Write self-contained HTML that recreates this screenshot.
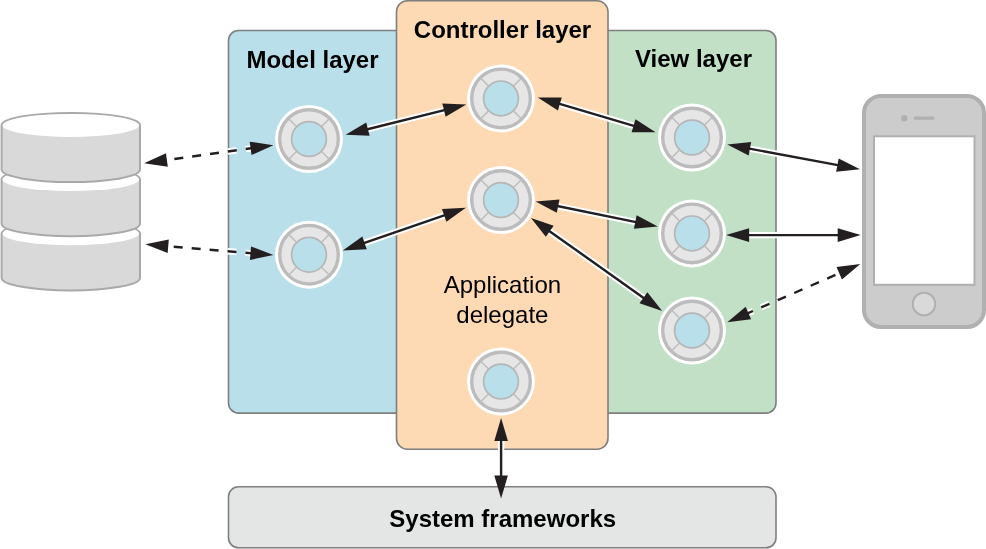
<!DOCTYPE html>
<html><head><meta charset="utf-8"><style>
html,body{margin:0;padding:0;background:#fff;width:986px;height:549px;overflow:hidden;}
svg{display:block;will-change:transform;}
text{font-family:"Liberation Sans", sans-serif;}
</style></head><body>
<svg width="986" height="549" viewBox="0 0 986 549">
<rect x="228.5" y="30.5" width="240" height="382.6" rx="10" fill="#b9dfea" stroke="#7f7f7f" stroke-width="1.6"/>
<rect x="536" y="30.5" width="240" height="382.6" rx="10" fill="#c1e0c6" stroke="#7f7f7f" stroke-width="1.6"/>
<rect x="396.5" y="0.8" width="211.5" height="448.4" rx="11" fill="#fdd9b4" stroke="#7f7f7f" stroke-width="1.6"/>
<rect x="228.5" y="486.8" width="547.5" height="61" rx="10" fill="#e4e6e5" stroke="#7f7f7f" stroke-width="1.6"/>
<path d="M1.5999999999999943,233.7 L1.5999999999999943,277.9 A69.2,12.5 0 0 0 140.0,277.9 L140.0,233.7 A69.2,12.5 0 0 0 1.5999999999999943,233.7 Z" fill="#d9d9d9" stroke="#a9a9a9" stroke-width="2"/>
<ellipse cx="70.8" cy="233.7" rx="68.2" ry="11.5" fill="#ffffff"/>
<path d="M1.5999999999999943,179.5 L1.5999999999999943,223.7 A69.2,12.5 0 0 0 140.0,223.7 L140.0,179.5 A69.2,12.5 0 0 0 1.5999999999999943,179.5 Z" fill="#d9d9d9" stroke="#a9a9a9" stroke-width="2"/>
<ellipse cx="70.8" cy="179.5" rx="68.2" ry="11.5" fill="#ffffff"/>
<path d="M1.5999999999999943,125.4 L1.5999999999999943,169.60000000000002 A69.2,12.5 0 0 0 140.0,169.60000000000002 L140.0,125.4 A69.2,12.5 0 0 0 1.5999999999999943,125.4 Z" fill="#d9d9d9" stroke="#a9a9a9" stroke-width="2"/>
<ellipse cx="70.8" cy="125.4" rx="68.2" ry="11.5" fill="#ffffff"/>
<rect x="864" y="96" width="120" height="231" rx="17" fill="#cccccc" stroke="#b0b0b0" stroke-width="4"/>
<rect x="874" y="136.3" width="100.5" height="148.5" fill="#ffffff" stroke="#b0b0b0" stroke-width="2"/>
<circle cx="904.3" cy="118.2" r="3.2" fill="#b0b0b0"/>
<line x1="915.5" y1="118.2" x2="933" y2="118.2" stroke="#b0b0b0" stroke-width="3.2" stroke-linecap="round"/>
<circle cx="924" cy="304" r="11.3" fill="#d9d9d9" stroke="#b0b0b0" stroke-width="2"/>
<path d="M252.90,148.05 L164.60,160.35" stroke="#ffffff" stroke-width="6.4" stroke-dasharray="9 9" stroke-dashoffset="37.70" fill="none"/>
<path d="M252.90,148.05 L164.60,160.35" stroke="#231f20" stroke-width="2.4" stroke-dasharray="9 9" stroke-dashoffset="37.70" fill="none"/>
<path d="M144.10,163.20 L167.82,166.76 L165.94,153.29 Z" fill="#231f20"/>
<path d="M273.40,145.20 L251.56,155.11 L249.68,141.64 Z" fill="#231f20"/>
<path d="M252.77,253.36 L165.93,246.04" stroke="#ffffff" stroke-width="6.4" stroke-dasharray="9 9" stroke-dashoffset="37.70" fill="none"/>
<path d="M252.77,253.36 L165.93,246.04" stroke="#231f20" stroke-width="2.4" stroke-dasharray="9 9" stroke-dashoffset="37.70" fill="none"/>
<path d="M145.30,244.30 L167.65,253.01 L168.79,239.46 Z" fill="#231f20"/>
<path d="M273.40,255.10 L249.91,259.94 L251.05,246.39 Z" fill="#231f20"/>
<path d="M363.45,130.25 L448.45,109.05" stroke="#ffffff" stroke-width="6.4" fill="none"/>
<path d="M363.45,130.25 L448.45,109.05" stroke="#231f20" stroke-width="2.4" fill="none"/>
<path d="M345.60,134.70 L369.56,135.73 L366.27,122.54 Z" fill="#231f20"/>
<path d="M466.30,104.60 L445.63,116.76 L442.34,103.57 Z" fill="#231f20"/>
<path d="M555.45,102.71 L637.95,127.09" stroke="#ffffff" stroke-width="6.4" fill="none"/>
<path d="M555.45,102.71 L637.95,127.09" stroke="#231f20" stroke-width="2.4" fill="none"/>
<path d="M537.80,97.50 L557.93,110.54 L561.78,97.49 Z" fill="#231f20"/>
<path d="M655.60,132.30 L631.62,132.31 L635.47,119.26 Z" fill="#231f20"/>
<path d="M360.19,244.38 L448.51,213.82" stroke="#ffffff" stroke-width="6.4" fill="none"/>
<path d="M360.19,244.38 L448.51,213.82" stroke="#231f20" stroke-width="2.4" fill="none"/>
<path d="M342.80,250.40 L366.76,249.30 L362.31,236.45 Z" fill="#231f20"/>
<path d="M465.90,207.80 L446.39,221.75 L441.94,208.90 Z" fill="#231f20"/>
<path d="M553.63,205.29 L639.77,222.91" stroke="#ffffff" stroke-width="6.4" fill="none"/>
<path d="M553.63,205.29 L639.77,222.91" stroke="#231f20" stroke-width="2.4" fill="none"/>
<path d="M535.60,201.60 L556.77,212.87 L559.50,199.55 Z" fill="#231f20"/>
<path d="M657.80,226.60 L633.90,228.65 L636.63,215.33 Z" fill="#231f20"/>
<path d="M546.01,228.65 L647.19,300.45" stroke="#ffffff" stroke-width="6.4" fill="none"/>
<path d="M546.01,228.65 L647.19,300.45" stroke="#231f20" stroke-width="2.4" fill="none"/>
<path d="M531.00,218.00 L545.82,236.86 L553.69,225.76 Z" fill="#231f20"/>
<path d="M662.20,311.10 L639.51,303.34 L647.38,292.24 Z" fill="#231f20"/>
<path d="M745.39,147.88 L841.91,165.92" stroke="#ffffff" stroke-width="6.4" fill="none"/>
<path d="M745.39,147.88 L841.91,165.92" stroke="#231f20" stroke-width="2.4" fill="none"/>
<path d="M727.30,144.50 L748.66,155.41 L751.16,142.04 Z" fill="#231f20"/>
<path d="M860.00,169.30 L836.14,171.76 L838.64,158.39 Z" fill="#231f20"/>
<path d="M744.50,235.10 L842.30,235.10" stroke="#ffffff" stroke-width="6.4" fill="none"/>
<path d="M744.50,235.10 L842.30,235.10" stroke="#231f20" stroke-width="2.4" fill="none"/>
<path d="M726.10,235.10 L749.10,241.90 L749.10,228.30 Z" fill="#231f20"/>
<path d="M860.70,235.10 L837.70,241.90 L837.70,228.30 Z" fill="#231f20"/>
<path d="M746.27,313.91 L841.33,272.39" stroke="#ffffff" stroke-width="6.4" stroke-dasharray="9 9" stroke-dashoffset="37.70" fill="none"/>
<path d="M746.27,313.91 L841.33,272.39" stroke="#231f20" stroke-width="2.4" stroke-dasharray="9 9" stroke-dashoffset="37.70" fill="none"/>
<path d="M727.30,322.20 L751.10,319.22 L745.65,306.76 Z" fill="#231f20"/>
<path d="M860.30,264.10 L841.95,279.54 L836.50,267.08 Z" fill="#231f20"/>
<path d="M501.10,436.40 L501.10,480.00" stroke="#ffffff" stroke-width="6.4" fill="none"/>
<path d="M501.10,436.40 L501.10,480.00" stroke="#231f20" stroke-width="2.4" fill="none"/>
<path d="M501.10,418.00 L494.30,441.00 L507.90,441.00 Z" fill="#231f20"/>
<path d="M501.10,498.40 L494.30,475.40 L507.90,475.40 Z" fill="#231f20"/>
<g transform="translate(309,139)">
<circle r="34" fill="#ffffff"/>
<circle r="29.3" fill="#e6e6e6" stroke="#bcbcbc" stroke-width="3.4"/>
<line x1="12.73" y1="12.73" x2="19.80" y2="19.80" stroke="#bdbdbd" stroke-width="1.5"/>
<line x1="-12.73" y1="12.73" x2="-19.80" y2="19.80" stroke="#bdbdbd" stroke-width="1.5"/>
<line x1="-12.73" y1="-12.73" x2="-19.80" y2="-19.80" stroke="#bdbdbd" stroke-width="1.5"/>
<line x1="12.73" y1="-12.73" x2="19.80" y2="-19.80" stroke="#bdbdbd" stroke-width="1.5"/>
<circle r="17.4" fill="#b9dfea" stroke="#b6b6b6" stroke-width="1.7"/>
</g>
<g transform="translate(309,254.7)">
<circle r="34" fill="#ffffff"/>
<circle r="29.3" fill="#e6e6e6" stroke="#bcbcbc" stroke-width="3.4"/>
<line x1="12.73" y1="12.73" x2="19.80" y2="19.80" stroke="#bdbdbd" stroke-width="1.5"/>
<line x1="-12.73" y1="12.73" x2="-19.80" y2="19.80" stroke="#bdbdbd" stroke-width="1.5"/>
<line x1="-12.73" y1="-12.73" x2="-19.80" y2="-19.80" stroke="#bdbdbd" stroke-width="1.5"/>
<line x1="12.73" y1="-12.73" x2="19.80" y2="-19.80" stroke="#bdbdbd" stroke-width="1.5"/>
<circle r="17.4" fill="#b9dfea" stroke="#b6b6b6" stroke-width="1.7"/>
</g>
<g transform="translate(501,98.4)">
<circle r="34" fill="#ffffff"/>
<circle r="29.3" fill="#e6e6e6" stroke="#bcbcbc" stroke-width="3.4"/>
<line x1="12.73" y1="12.73" x2="19.80" y2="19.80" stroke="#bdbdbd" stroke-width="1.5"/>
<line x1="-12.73" y1="12.73" x2="-19.80" y2="19.80" stroke="#bdbdbd" stroke-width="1.5"/>
<line x1="-12.73" y1="-12.73" x2="-19.80" y2="-19.80" stroke="#bdbdbd" stroke-width="1.5"/>
<line x1="12.73" y1="-12.73" x2="19.80" y2="-19.80" stroke="#bdbdbd" stroke-width="1.5"/>
<circle r="17.4" fill="#b9dfea" stroke="#b6b6b6" stroke-width="1.7"/>
</g>
<g transform="translate(501,200)">
<circle r="34" fill="#ffffff"/>
<circle r="29.3" fill="#e6e6e6" stroke="#bcbcbc" stroke-width="3.4"/>
<line x1="12.73" y1="12.73" x2="19.80" y2="19.80" stroke="#bdbdbd" stroke-width="1.5"/>
<line x1="-12.73" y1="12.73" x2="-19.80" y2="19.80" stroke="#bdbdbd" stroke-width="1.5"/>
<line x1="-12.73" y1="-12.73" x2="-19.80" y2="-19.80" stroke="#bdbdbd" stroke-width="1.5"/>
<line x1="12.73" y1="-12.73" x2="19.80" y2="-19.80" stroke="#bdbdbd" stroke-width="1.5"/>
<circle r="17.4" fill="#b9dfea" stroke="#b6b6b6" stroke-width="1.7"/>
</g>
<g transform="translate(501,381.5)">
<circle r="34" fill="#ffffff"/>
<circle r="29.3" fill="#e6e6e6" stroke="#bcbcbc" stroke-width="3.4"/>
<line x1="12.73" y1="12.73" x2="19.80" y2="19.80" stroke="#bdbdbd" stroke-width="1.5"/>
<line x1="-12.73" y1="12.73" x2="-19.80" y2="19.80" stroke="#bdbdbd" stroke-width="1.5"/>
<line x1="-12.73" y1="-12.73" x2="-19.80" y2="-19.80" stroke="#bdbdbd" stroke-width="1.5"/>
<line x1="12.73" y1="-12.73" x2="19.80" y2="-19.80" stroke="#bdbdbd" stroke-width="1.5"/>
<circle r="17.4" fill="#b9dfea" stroke="#b6b6b6" stroke-width="1.7"/>
</g>
<g transform="translate(692,137.5)">
<circle r="34" fill="#ffffff"/>
<circle r="29.3" fill="#e6e6e6" stroke="#bcbcbc" stroke-width="3.4"/>
<line x1="12.73" y1="12.73" x2="19.80" y2="19.80" stroke="#bdbdbd" stroke-width="1.5"/>
<line x1="-12.73" y1="12.73" x2="-19.80" y2="19.80" stroke="#bdbdbd" stroke-width="1.5"/>
<line x1="-12.73" y1="-12.73" x2="-19.80" y2="-19.80" stroke="#bdbdbd" stroke-width="1.5"/>
<line x1="12.73" y1="-12.73" x2="19.80" y2="-19.80" stroke="#bdbdbd" stroke-width="1.5"/>
<circle r="17.4" fill="#b9dfea" stroke="#b6b6b6" stroke-width="1.7"/>
</g>
<g transform="translate(692,233.4)">
<circle r="34" fill="#ffffff"/>
<circle r="29.3" fill="#e6e6e6" stroke="#bcbcbc" stroke-width="3.4"/>
<line x1="12.73" y1="12.73" x2="19.80" y2="19.80" stroke="#bdbdbd" stroke-width="1.5"/>
<line x1="-12.73" y1="12.73" x2="-19.80" y2="19.80" stroke="#bdbdbd" stroke-width="1.5"/>
<line x1="-12.73" y1="-12.73" x2="-19.80" y2="-19.80" stroke="#bdbdbd" stroke-width="1.5"/>
<line x1="12.73" y1="-12.73" x2="19.80" y2="-19.80" stroke="#bdbdbd" stroke-width="1.5"/>
<circle r="17.4" fill="#b9dfea" stroke="#b6b6b6" stroke-width="1.7"/>
</g>
<g transform="translate(692,330.5)">
<circle r="34" fill="#ffffff"/>
<circle r="29.3" fill="#e6e6e6" stroke="#bcbcbc" stroke-width="3.4"/>
<line x1="12.73" y1="12.73" x2="19.80" y2="19.80" stroke="#bdbdbd" stroke-width="1.5"/>
<line x1="-12.73" y1="12.73" x2="-19.80" y2="19.80" stroke="#bdbdbd" stroke-width="1.5"/>
<line x1="-12.73" y1="-12.73" x2="-19.80" y2="-19.80" stroke="#bdbdbd" stroke-width="1.5"/>
<line x1="12.73" y1="-12.73" x2="19.80" y2="-19.80" stroke="#bdbdbd" stroke-width="1.5"/>
<circle r="17.4" fill="#b9dfea" stroke="#b6b6b6" stroke-width="1.7"/>
</g>
<text x="312.5" y="67.8" text-anchor="middle" font-family="Liberation Sans, sans-serif" font-weight="bold" font-size="24" fill="#000">Model layer</text>
<text x="502.5" y="37.5" text-anchor="middle" font-family="Liberation Sans, sans-serif" font-weight="bold" font-size="24" fill="#000">Controller layer</text>
<text x="693.5" y="67.4" text-anchor="middle" font-family="Liberation Sans, sans-serif" font-weight="bold" font-size="24" fill="#000">View layer</text>
<text x="502.4" y="292.9" text-anchor="middle" font-family="Liberation Sans, sans-serif" font-size="24" fill="#000">Application</text>
<text x="502.4" y="323.1" text-anchor="middle" font-family="Liberation Sans, sans-serif" font-size="24" fill="#000">delegate</text>
<text x="502.7" y="526.6" text-anchor="middle" font-family="Liberation Sans, sans-serif" font-weight="bold" font-size="24" fill="#000">System frameworks</text>
</svg>
</body></html>
